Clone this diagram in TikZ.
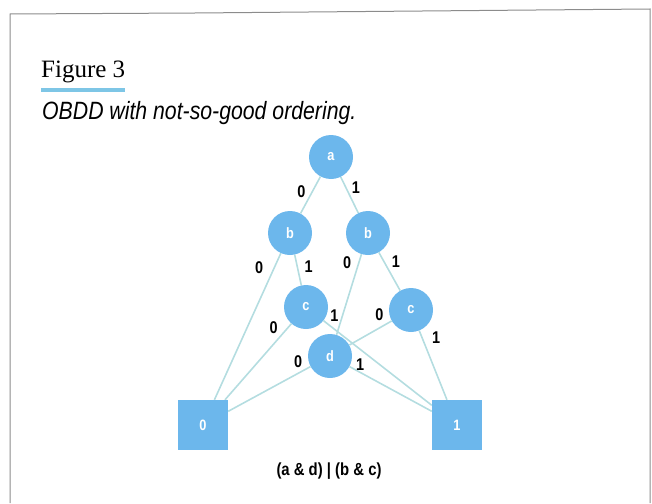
\documentclass[tikz,border=0pt]{standalone}
\usepackage{fontspec}
\usepackage{tikz}
\usetikzlibrary{positioning,backgrounds}
\setmainfont{Liberation Serif}
\newfontfamily\condsans[FakeStretch=0.85]{Liberation Sans}
\definecolor{BddBlue}{HTML}{6CB7EC}
\definecolor{BddWire}{HTML}{B4DDE0}
\definecolor{BddRule}{HTML}{7EC6E6}
\definecolor{BddFrame}{HTML}{8C8C8C}
\tikzset{
  varnode/.style={circle, fill=BddBlue, minimum size=44pt, inner sep=0pt,
    text=white, font=\condsans\bfseries\fontsize{15}{15}\selectfont},
  termnode/.style={rectangle, fill=BddBlue, minimum size=50pt, inner sep=0pt,
    text=white, font=\condsans\bfseries\fontsize{15}{15}\selectfont},
  wire/.style={draw=BddWire, line width=1.6pt},
  branch/.style={inner sep=0.5pt, font=\condsans\bfseries\fontsize{17}{17}\selectfont},
  framerule/.style={draw=BddFrame, line width=1pt}
}

\begin{document}
\begin{tikzpicture}[x=1pt, y=-1pt]
  \useasboundingbox (0,0) rectangle (652,503);
  \draw[framerule] (10,503) -- (10,14) -- (195,13) -- (650,9) -- (650,503);

  % heading
  \node[anchor=base west, inner sep=0pt, font=\fontsize{25}{25}\selectfont]
    (title) at (41,77) {Figure 3};
  \draw[BddRule, line width=4pt] ([yshift=-13pt]title.base west) -- ([yshift=-13pt]title.base east);
  \node[anchor=base west, inner sep=0pt, font=\condsans\itshape\fontsize{25}{25}\selectfont]
    (subtitle) at (42,119) {OBDD with not-so-good ordering.};

  % decision nodes
  \node[varnode] (a) at (331,157) {a};
  \node[varnode] (b0) at (290,233) {b};
  \node[varnode] (b1) at (368,233) {b};
  \node[varnode] (c0) at (306,307) {c};
  \node[varnode] (c1) at (411,310) {c};
  \node[varnode] (d) at (330,356) {d};
  \node[termnode] (zero) at (203,425) {0};
  \node[termnode] (one) at (457,425) {1};

  \begin{scope}[on background layer]
    \draw[wire] (a) -- node[branch, pos=.42, left=5.5pt] {0} (b0);
    \draw[wire] (a) -- node[branch, pos=.31, right=4.5pt] {1} (b1);
    \draw[wire] (b0) -- node[branch, pos=.095, left=10pt] {0} (zero);
    \draw[wire] (b0) -- node[branch, pos=.39, right=6pt] {1} (c0);
    \draw[wire] (b1) -- node[branch, pos=.1, left=6.5pt] {0} (d);
    \draw[wire] (b1) -- node[branch, pos=.25, right=6.3pt] {1} (c1);
    \draw[wire] (c0) -- node[branch, pos=.05, left=9pt] {0} (zero);
    \draw[wire] (c0) -- node[branch, pos=.1, above=6.4pt] {1} (one);
    \draw[wire] (c1) -- node[branch, pos=.29, above=6pt] {0} (d);
    \draw[wire] (c1) -- node[branch, pos=.1, right=8.7pt] {1} (one);
    \draw[wire] (d) -- node[branch, pos=.15, above=4.8pt] {0} (zero);
    \draw[wire] (d) -- node[branch, pos=.13, above=0.7pt] {1} (one);
  \end{scope}

  \node[font=\condsans\bfseries\fontsize{17.5}{17.5}\selectfont] (formula) at (329,471) {(a \& d) | (b \& c)};
\end{tikzpicture}
\end{document}
